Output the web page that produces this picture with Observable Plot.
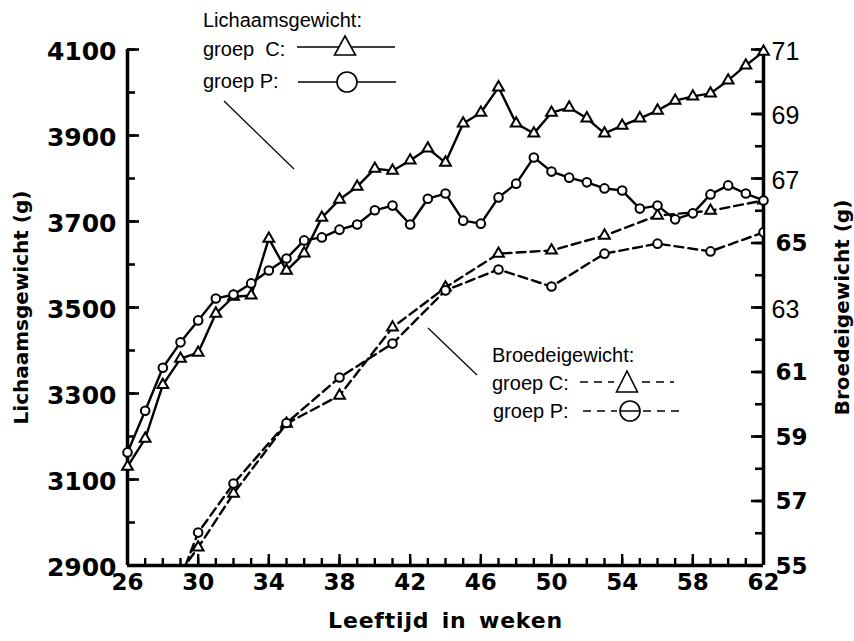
<!DOCTYPE html>
<html><head><meta charset="utf-8">
<script src="https://cdn.jsdelivr.net/npm/d3@7"></script>
<script src="https://cdn.jsdelivr.net/npm/@observablehq/plot@0.6"></script>
<style>body{margin:0;background:#fff} #chart svg{display:block}</style>
</head><body><div id="chart"></div>
<script>
// ---- data ----
const weeksBody = [26,27,28,29,30,31,32,33,34,35,36,37,38,39,40,41,42,43,44,45,46,47,48,49,50,51,52,53,54,55,56,57,58,59,60,61,62];
const bodyC = [3130,3195,3320,3381,3395,3486,3525,3528,3660,3586,3626,3709,3751,3781,3823,3818,3842,3870,3837,3928,3953,4012,3928,3905,3953,3965,3940,3905,3923,3940,3958,3981,3991,3998,4028,4063,4095];
const bodyP = [3163,3260,3360,3419,3470,3521,3530,3556,3586,3614,3656,3663,3681,3693,3726,3737,3693,3753,3765,3702,3695,3756,3788,3849,3816,3802,3791,3777,3772,3730,3737,3705,3719,3763,3784,3765,3749];
const weeksEgg = [29,30,32,35,38,41,44,47,50,53,56,59,62];
const eggC = [54.8,55.56,57.23,59.40,60.27,62.38,63.62,64.67,64.77,65.23,65.85,66.0,66.32];
const eggP = [54.6,56.02,57.54,59.42,60.83,61.88,63.53,64.18,63.65,64.67,64.98,64.74,65.33];

const xDomain = [26, 62];
const yDomain = [2900, 4100];
const rightDomain = [55, 71];
const xTicks = [26,27,28,29,30,31,32,33,34,35,36,37,38,39,40,41,42,43,44,45,46,47,48,49,50,51,52,53,54,55,56,57,58,59,60,61,62];
const xTickLabels = [26,30,34,38,42,46,50,54,58,62];
const leftTicks = [2900,3000,3100,3200,3300,3400,3500,3600,3700,3800,3900,4000,4100];
const leftTickLabels = [2900,3100,3300,3500,3700,3900,4100];
const rightTicks = [55,56,57,58,59,60,61,62,63,64,65,66,67,68,69,70,71];
const rightTickLabels = [55,57,59,61,63,65,67,69,71];
const rightLightLabels = [63,67,69,71];
const rightItalicLabels = [67,69];

const xTitle = "Leeftijd in weken";
const yTitle = "Lichaamsgewicht (g)";
const y2Title = "Broedeigewicht (g)";

// map egg weight (right axis) onto body-weight scale
const toG = v => yDomain[0] + (v - rightDomain[0]) * (yDomain[1]-yDomain[0]) / (rightDomain[1]-rightDomain[0]);

const bodyRows = weeksBody.map((w,i)=>({week:w, C:bodyC[i], P:bodyP[i]}));
const eggRows = weeksEgg.map((w,i)=>({week:w, C:toG(eggC[i]), P:toG(eggP[i])}));

const W = 854, H = 641, mL = 127, mR = 91, mT = 49, mB = 76;
const fw = W - mL - mR, fh = H - mT - mB;
const sw = 2.4;

const chart = Plot.plot({
  width: W, height: H,
  marginLeft: mL, marginRight: mR, marginTop: mT, marginBottom: mB,
  x: {domain: xDomain, axis: null},
  y: {domain: yDomain, axis: null},
  style: {fontFamily: "DejaVu Sans", background: "white", color: "black"},
  marks: [
    // ticks (inward)
    Plot.tickX(xTicks, {x: d=>d, insetTop: fh-7, strokeWidth: 2.4}),
    Plot.tickX(xTickLabels, {x: d=>d, insetTop: fh-11, strokeWidth: 2.4}),
    Plot.tickY(leftTicks, {y: d=>d, insetRight: fw-8, strokeWidth: 2.6}),
    Plot.tickY(leftTickLabels, {y: d=>d, insetRight: fw-12, strokeWidth: 2.6}),
    Plot.tickY(rightTicks, {y: d=>toG(d), insetLeft: fw-8, strokeWidth: 2.6}),
    Plot.tickY(rightTickLabels, {y: d=>toG(d), insetLeft: fw-12, strokeWidth: 2.6}),
    // axis lines
    Plot.ruleX(xDomain, {x: d=>d, strokeWidth: 3.5}),
    Plot.ruleY([yDomain[0]], {y: d=>d, strokeWidth: 3.5}),
    // tick labels
    Plot.text(xTickLabels, {x: d=>d, text: d=>String(d), frameAnchor: "bottom", textAnchor: "middle", dy: 24, fontSize: 23, fontWeight: "bold"}),
    Plot.text(leftTickLabels, {y: d=>d, text: d=>String(d), frameAnchor: "left", textAnchor: "end", dx: -11, dy: 2, fontSize: 25, fontWeight: "bold"}),
    Plot.text(rightTickLabels.filter(d=>!rightLightLabels.includes(d)), {y: d=>toG(d), text: d=>String(d), frameAnchor: "right", textAnchor: "start", dx: 12, dy: 1, fontSize: 23, fontWeight: "bold"}),
    Plot.text(rightTickLabels.filter(d=>rightLightLabels.includes(d)), {y: d=>toG(d), text: d=>String(d), frameAnchor: "right", textAnchor: "start", dx: 8, dy: 2, fontSize: 25, fontFamily: "Liberation Sans", fontStyle: d=>rightItalicLabels.includes(d) ? "italic" : "normal"}),
    // axis titles
    Plot.text([yTitle], {text: d=>d, frameAnchor: "left", textAnchor: "middle", dx: -106, rotate: -90, fontSize: 20, fontWeight: "bold"}),
    Plot.text([y2Title], {text: d=>d, frameAnchor: "right", textAnchor: "middle", dx: 79, rotate: -90, fontSize: 20, fontWeight: "bold"}),
    Plot.text([xTitle], {text: d=>d, frameAnchor: "bottom", textAnchor: "middle", dy: 62, fontSize: 22, fontWeight: "bold"}),
    // egg weight (dashed)
    Plot.line(eggRows, {x: "week", y: "C", stroke: "black", strokeWidth: sw, strokeDasharray: "9,5", clip: true}),
    Plot.line(eggRows, {x: "week", y: "P", stroke: "black", strokeWidth: sw, strokeDasharray: "9,5", clip: true}),
    Plot.dot(eggRows, {x: "week", y: "C", symbol: "triangle", r: 4, stroke: "black", strokeWidth: 2, fill: "white", clip: true}),
    Plot.dot(eggRows, {x: "week", y: "P", symbol: "circle", r: 4.3, stroke: "black", strokeWidth: 2, fill: "white", clip: true}),
    // body weight (solid)
    Plot.line(bodyRows, {x: "week", y: "C", stroke: "black", strokeWidth: sw}),
    Plot.line(bodyRows, {x: "week", y: "P", stroke: "black", strokeWidth: sw}),
    Plot.dot(bodyRows, {x: "week", y: "C", symbol: "triangle", r: 4, stroke: "black", strokeWidth: 2, fill: "white"}),
    Plot.dot(bodyRows, {x: "week", y: "P", symbol: "circle", r: 4.3, stroke: "black", strokeWidth: 2, fill: "white"})
  ]
});
document.getElementById("chart").appendChild(chart);

// widen the x title a little, like the scanned original
d3.select(chart).selectAll("text").filter(function(){ return this.textContent === xTitle; })
  .style("letter-spacing", "0.8px").style("word-spacing", "4px");

// ---- in-chart legends (pixel-placed annotation) ----
const svg = d3.select(chart);
const lg = svg.append("g").attr("font-family", "Liberation Sans, Arial, sans-serif").attr("font-size", 20)
  .attr("fill", "black").attr("text-anchor", "start");
const txt = (x, y, s) => lg.append("text").attr("x", x).attr("y", y).attr("text-anchor", "start").text(s);
const seg = (x1, y1, x2, y2, w, dash) => lg.append("line").attr("x1", x1).attr("y1", y1).attr("x2", x2).attr("y2", y2)
  .attr("stroke", "black").attr("stroke-width", w).attr("stroke-dasharray", dash || null);
const tri = (cx, top, bottom, half) => lg.append("path").attr("d", `M${cx},${top}L${cx+half},${bottom}L${cx-half},${bottom}Z`)
  .attr("fill", "white").attr("stroke", "black").attr("stroke-width", 1.6);
const circ = (cx, cy, r) => lg.append("circle").attr("cx", cx).attr("cy", cy).attr("r", r)
  .attr("fill", "white").attr("stroke", "black").attr("stroke-width", 1.6);

txt(203, 27, "Lichaamsgewicht:");
txt(203, 56, "groep\u00a0\u00a0C:");
txt(203, 88, "groep P:");
seg(297, 47, 395, 47, 1.5);
tri(345, 36, 55, 10.5);
seg(298, 82, 396, 82, 1.5);
circ(347, 82, 10);
seg(224, 101, 294, 169, 1.2);

txt(492, 362, "Broedeigewicht:");
txt(492, 390, "groep C:");
txt(493, 418, "groep P:");
seg(580, 382, 614, 382, 1.5, "8,6");
tri(627, 371, 392, 10.5);
seg(642, 382, 674, 382, 1.5, "8,6");
seg(583, 411, 617, 411, 1.5, "8,6");
circ(630, 411, 10);
seg(621, 411, 639, 411, 1.5);
seg(643, 411, 679, 411, 1.5, "8,6");
seg(428, 328, 477, 375, 1.2);
</script></body></html>
